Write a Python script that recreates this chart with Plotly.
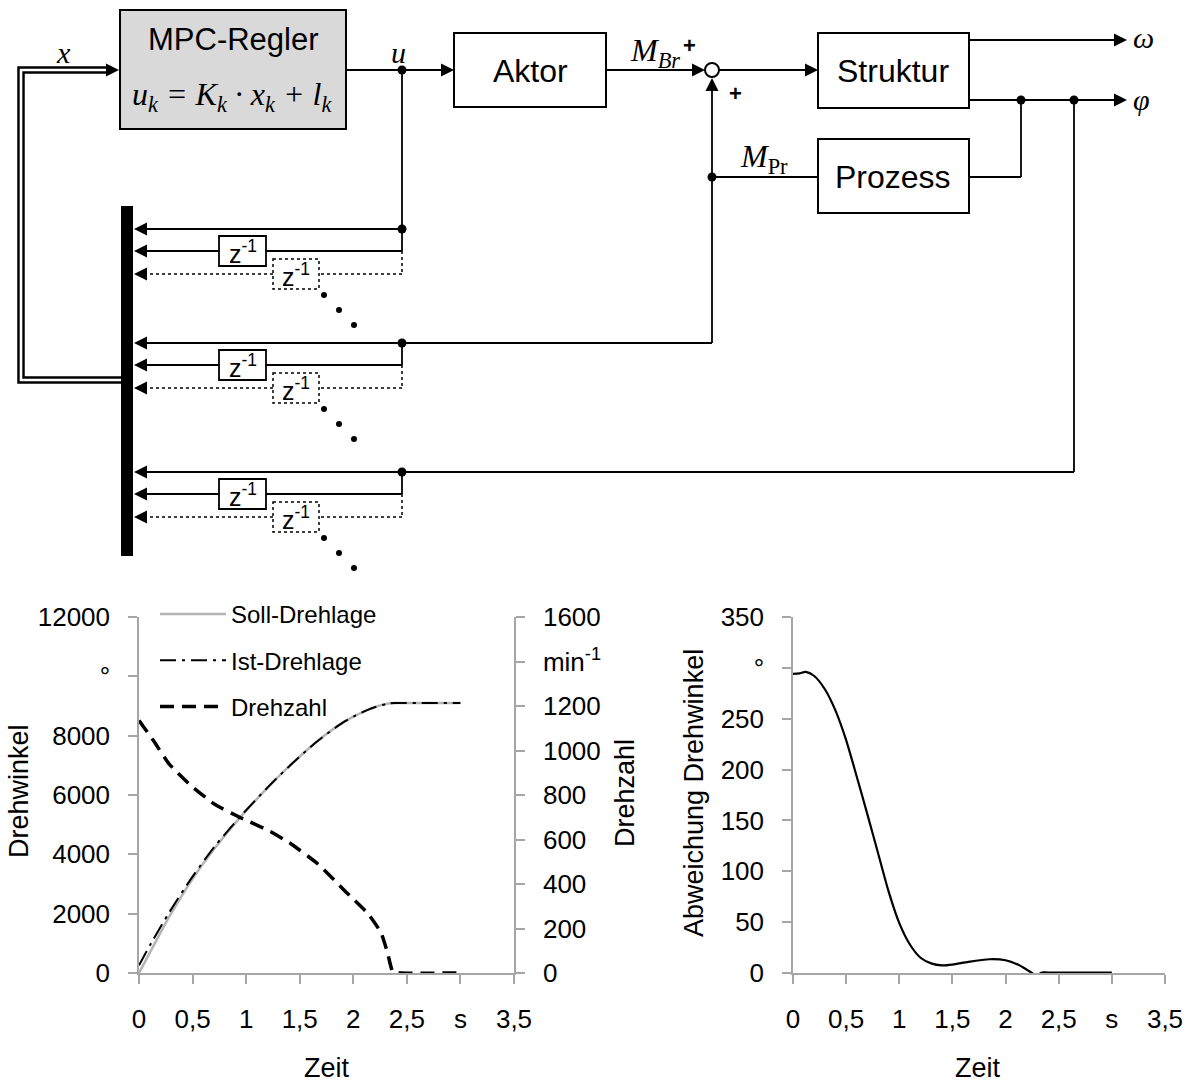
import plotly.graph_objects as go

# ---------------- data ----------------
t_lage = [0, 0.13, 0.28, 0.49, 0.71, 0.94, 1.21, 1.42, 1.67, 1.92, 2.14, 2.32, 2.4, 3.0]
soll_drehlage = [0, 880, 1880, 3120, 4220, 5230, 6280, 7030, 7830, 8480, 8880, 9080, 9100, 9100]
ist_drehlage = [260, 1110, 2030, 3200, 4280, 5250, 6290, 7030, 7830, 8480, 8880, 9080, 9100, 9100]

t_drehzahl = [0, 0.13, 0.28, 0.49, 0.71, 0.94, 1.21, 1.42, 1.67, 1.92, 2.14, 2.26, 2.32, 2.37, 2.45, 3.0]
drehzahl = [1135, 1048, 940, 840, 757, 700, 640, 580, 490, 370, 265, 180, 90, 5, 0, 0]

t_abw = [0, 0.06, 0.12, 0.2, 0.3, 0.4, 0.5, 0.6, 0.7, 0.8, 0.9, 1.0, 1.1, 1.2, 1.3, 1.4,
         1.5, 1.65, 1.85, 2.0, 2.12, 2.22, 2.29, 2.34, 2.4, 3.0]
abweichung = [294, 294.5, 296, 292, 279, 258, 229, 193, 156, 118, 80, 49, 28, 15, 9.5, 7.5,
              8.3, 11, 13.5, 12.5, 8, 2, -2.3, 0.5, 0.5, 0.5]

x_tickvals = [0, 0.5, 1, 1.5, 2, 2.5, 3, 3.5]
x_ticktext = ["0", "0,5", "1", "1,5", "2", "2,5", "s", "3,5"]
y1_tickvals = [0, 2000, 4000, 6000, 8000, 10000, 12000]
y1_ticktext = ["0", "2000", "4000", "6000", "8000", "°", "12000"]
y2_tickvals = [0, 200, 400, 600, 800, 1000, 1200, 1400, 1600]
y2_ticktext = ["0", "200", "400", "600", "800", "1000", "1200", "min<sup>-1</sup>", "1600"]
y3_tickvals = [0, 50, 100, 150, 200, 250, 300, 350]
y3_ticktext = ["0", "50", "100", "150", "200", "250", "°", "350"]

W, H = 1190, 1084
SANS = "Liberation Sans, Arial, sans-serif"
SERIF = "Liberation Serif, Times New Roman, serif"
GRAY = "#a6a6a6"


def X(px):
    return px / W


def Y(py):
    return 1 - py / H


fig = go.Figure()

fig.add_trace(go.Scatter(x=t_lage, y=soll_drehlage, name="Soll-Drehlage", mode="lines",
                         line=dict(color="#b4b4b4", width=2.5, shape="spline", smoothing=0.7),
                         xaxis="x", yaxis="y", legendgroup="a"))
fig.add_trace(go.Scatter(x=t_lage, y=ist_drehlage, name="Ist-Drehlage", mode="lines",
                         line=dict(color="black", width=2, dash="16px,6px,3px,6px",
                                   shape="spline", smoothing=0.7),
                         xaxis="x", yaxis="y", legendgroup="b"))
fig.add_trace(go.Scatter(x=t_drehzahl, y=drehzahl, name="Drehzahl", mode="lines",
                         line=dict(color="black", width=3.5, dash="14px,8px", shape="spline",
                                   smoothing=0.5),
                         xaxis="x", yaxis="y2", legendgroup="c"))
fig.add_trace(go.Scatter(x=t_abw, y=abweichung, name="Abweichung", mode="lines",
                         line=dict(color="black", width=2.2, shape="spline", smoothing=0.7),
                         xaxis="x3", yaxis="y3", showlegend=False))

tickfont = dict(family=SANS, size=26, color="black")
common_x = dict(range=[0, 3.5], tickvals=x_tickvals, ticktext=x_ticktext, showline=True,
                linecolor=GRAY, linewidth=1.5, ticks="outside", ticklen=9, tickcolor=GRAY,
                tickwidth=1.5, showgrid=False, zeroline=False, tickfont=tickfont,
                ticklabelstandoff=13, automargin=False, fixedrange=True)
common_y = dict(showline=True, linecolor=GRAY, linewidth=1.5, ticks="outside", ticklen=9,
                tickcolor=GRAY, tickwidth=1.5, showgrid=False, zeroline=False, tickfont=tickfont,
                ticklabelstandoff=13, automargin=False, fixedrange=True)

ydom = [Y(973), Y(617)]

fig.update_layout(
    width=W, height=H, template="none",
    margin=dict(l=0, r=0, t=0, b=0),
    paper_bgcolor="white", plot_bgcolor="rgba(0,0,0,0)",
    xaxis=dict(domain=[X(139), X(514)], anchor="y", **common_x),
    yaxis=dict(domain=ydom, anchor="x", range=[0, 12000], tickvals=y1_tickvals,
               ticktext=y1_ticktext, **common_y),
    yaxis2=dict(domain=ydom, anchor="x", overlaying="y", side="right", range=[0, 1600],
                tickvals=y2_tickvals, ticktext=y2_ticktext, **common_y),
    xaxis3=dict(domain=[X(793), X(1165)], anchor="y3", **common_x),
    yaxis3=dict(domain=ydom, anchor="x3", range=[0, 350], tickvals=y3_tickvals,
                ticktext=y3_ticktext, **common_y),
    showlegend=True,
    legend=dict(x=X(155), y=Y(592), xanchor="left", yanchor="top",
                font=dict(family=SANS, size=24, color="black"),
                bgcolor="rgba(0,0,0,0)", itemwidth=66, traceorder="grouped",
                tracegroupgap=12),
)

# ---------------- axis titles ----------------
ann = []


def text(x, y, s, size=22, family=SANS, angle=0, xanchor="center"):
    ann.append(dict(x=X(x), y=Y(y), xref="paper", yref="paper", text=s, showarrow=False,
                    font=dict(family=family, size=size, color="black"), textangle=angle,
                    xanchor=xanchor, yanchor="middle"))


text(19, 791, "Drehwinkel", size=27, angle=-90)
text(625, 793, "Drehzahl", size=27, angle=-90)
text(694, 793, "Abweichung Drehwinkel", size=27, angle=-90)
text(327, 1068, "Zeit", size=27)
text(978, 1068, "Zeit", size=27)

# ---------------- block diagram ----------------
shapes = []


def line(x0, y0, x1, y1, w=1.8, dash=None, color="black"):
    d = dict(type="line", xref="paper", yref="paper", x0=X(x0), y0=Y(y0), x1=X(x1), y1=Y(y1),
             line=dict(color=color, width=w))
    if dash:
        d["line"]["dash"] = dash
    shapes.append(d)


def rect(x0, y0, x1, y1, fill="white", w=2, dash=None, color="black"):
    d = dict(type="rect", xref="paper", yref="paper", x0=X(x0), y0=Y(y0), x1=X(x1), y1=Y(y1),
             fillcolor=fill, line=dict(color=color, width=w))
    if dash:
        d["line"]["dash"] = dash
    shapes.append(d)


def dot(x, y, r=4.5):
    shapes.append(dict(type="circle", xref="paper", yref="paper", x0=X(x - r), y0=Y(y - r),
                       x1=X(x + r), y1=Y(y + r), fillcolor="black", line=dict(width=0)))


def arrow(tx, ty, direction, L=13, hw=6.5):
    if direction == "right":
        pts = [(tx, ty), (tx - L, ty - hw), (tx - L, ty + hw)]
    elif direction == "left":
        pts = [(tx, ty), (tx + L, ty - hw), (tx + L, ty + hw)]
    else:  # up
        pts = [(tx, ty), (tx - hw, ty + L), (tx + hw, ty + L)]
    path = "M " + " L ".join(f"{X(a):.6f},{Y(b):.6f}" for a, b in pts) + " Z"
    shapes.append(dict(type="path", xref="paper", yref="paper", path=path,
                       fillcolor="black", line=dict(width=0)))


def polyline(pts, w, color):
    path = "M " + " L ".join(f"{X(a):.6f},{Y(b):.6f}" for a, b in pts)
    shapes.append(dict(type="path", xref="paper", yref="paper", path=path,
                       line=dict(color=color, width=w)))


# double line x-feedback
dbl = [(121, 380), (21, 380), (21, 70), (106, 70)]
polyline(dbl, 7.5, "black")
polyline(dbl, 2.6, "white")
arrow(119, 70, "right")
text(63, 53, "<i>x</i>", size=30, family=SERIF)

# MPC box
rect(120, 10, 346, 129, fill="#d9d9d9")
text(233, 40, "MPC-Regler", size=31)
text(232, 96, "<i>u<sub>k</sub> = K<sub>k</sub> · x<sub>k</sub> + l<sub>k</sub></i>", size=32, family=SERIF)

# u output
line(346, 70, 442, 70)
arrow(454, 70, "right")
dot(402, 70)
text(399, 52, "<i>u</i>", size=30, family=SERIF)
line(402, 70, 402, 229)

# Aktor
rect(454, 33, 606, 107)
text(530, 71, "Aktor", size=32)
line(606, 70, 694, 70)
arrow(705, 70, "right")
text(655, 52, "<i>M<sub>Br</sub></i>", size=32, family=SERIF)
text(689, 46, "<b>+</b>", size=22)

# summation
shapes.append(dict(type="circle", xref="paper", yref="paper", x0=X(705), y0=Y(63), x1=X(719),
                   y1=Y(77), fillcolor="white", line=dict(color="black", width=2)))
text(735, 93, "<b>+</b>", size=22)
line(719, 70, 806, 70)
arrow(818, 70, "right")

# Struktur
rect(818, 33, 969, 108)
text(893, 71, "Struktur", size=32)
line(969, 40, 1115, 40)
arrow(1127, 40, "right")
text(1143, 38, "<i>ω</i>", size=30, family=SERIF)
line(969, 100, 1115, 100)
arrow(1127, 100, "right")
text(1141, 100, "<i>φ</i>", size=30, family=SERIF)
dot(1021, 100)
dot(1074, 100)

# Prozess
rect(818, 139, 969, 213)
text(893, 177, "Prozess", size=32)
line(969, 177, 1021, 177)
line(1021, 177, 1021, 100)
line(712, 177, 818, 177)
dot(712, 177)
text(764, 158, "<i>M</i><sub>Pr</sub>", size=32, family=SERIF)
line(712, 343, 712, 89)
arrow(712, 78, "up")

# phi feedback
line(1074, 100, 1074, 472)

# bus bar
rect(121, 206, 133, 556, fill="black", w=0)

groups = [(229, 402), (343, 712), (472, 1074)]
for m, src in groups:
    line(src, m, 146, m)
    arrow(134, m, "left")
    dot(402, m)
    zy = m + 22
    line(402, m, 402, zy)
    line(402, zy, 266, zy)
    rect(219, zy - 15, 266, zy + 15, w=1.8)
    text(242.5, zy + 1, "z<sup>-1</sup>", size=25)
    line(219, zy, 146, zy)
    arrow(134, zy, "left")
    dy = m + 45
    line(402, zy, 402, dy, w=1.5, dash="dot")
    line(402, dy, 319, dy, w=1.5, dash="dot")
    rect(273, dy - 15, 319, dy + 15, w=1.5, dash="dot")
    text(296, dy + 1, "z<sup>-1</sup>", size=25)
    line(273, dy, 146, dy, w=1.5, dash="dot")
    arrow(134, dy, "left")
    for k in range(3):
        dot(324 + 15 * k, m + 66 + 15 * k, r=3)

fig.update_layout(shapes=shapes, annotations=ann)
fig.write_html("out.html")
